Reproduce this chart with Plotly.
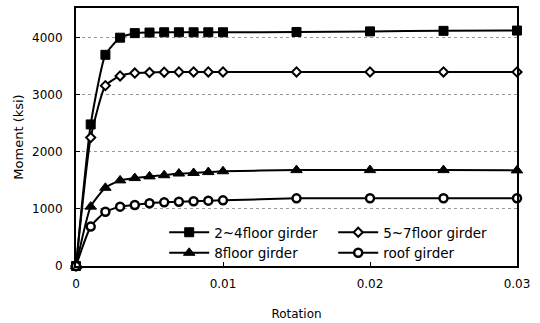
import plotly.graph_objects as go

rotation = [0, 0.001, 0.002, 0.003, 0.004, 0.005, 0.006, 0.007, 0.008, 0.009, 0.010, 0.015, 0.020, 0.025, 0.030]
girder_2_4 = [0, 2480, 3700, 4000, 4080, 4090, 4095, 4095, 4095, 4095, 4095, 4100, 4110, 4120, 4125]
girder_5_7 = [0, 2250, 3160, 3330, 3380, 3390, 3395, 3400, 3400, 3400, 3400, 3400, 3400, 3400, 3400]
girder_8 = [0, 1040, 1370, 1500, 1540, 1570, 1590, 1620, 1630, 1645, 1660, 1680, 1680, 1680, 1675]
girder_roof = [0, 690, 950, 1040, 1070, 1100, 1115, 1125, 1135, 1145, 1150, 1185, 1188, 1188, 1188]

series_names = ["2~4floor girder", "5~7floor girder", "8floor girder", "roof girder"]
x_ticks = [0, 0.01, 0.02, 0.03]
x_tick_labels = ["0", "0.01", "0.02", "0.03"]
y_ticks = [0, 1000, 2000, 3000, 4000]

fig = go.Figure()
styles = [
    dict(symbol="square", size=9, color="black", line=dict(color="black", width=1)),
    dict(symbol="diamond", size=7, color="white", line=dict(color="black", width=2)),
    dict(symbol="triangle-up", size=10, color="black", line=dict(color="black", width=1)),
    dict(symbol="circle", size=8, color="white", line=dict(color="black", width=2.5)),
]
for name, ys, mk in zip(series_names, [girder_2_4, girder_5_7, girder_8, girder_roof], styles):
    fig.add_trace(go.Scatter(
        x=rotation, y=ys, name=name, mode="lines+markers",
        line=dict(color="black", width=2, shape="spline", smoothing=0.5),
        marker=mk, cliponaxis=False,
    ))

fig.update_layout(
    width=540, height=323,
    margin=dict(l=76, r=23, t=8, b=57),
    paper_bgcolor="white", plot_bgcolor="white",
    font=dict(family="DejaVu Sans, Arial, sans-serif", size=12, color="black"),
    legend=dict(
        orientation="h", x=0.2, y=0.19, xanchor="left", yanchor="top",
        entrywidth=114, entrywidthmode="pixels", itemwidth=40,
        bgcolor="rgba(0,0,0,0)", font=dict(size=13.5), tracegroupgap=0,
    ),
    showlegend=True,
)
fig.update_xaxes(
    range=[0, 0.03], tickvals=x_ticks, ticktext=x_tick_labels,
    showline=True, linecolor="black", linewidth=2, mirror=True,
    ticks="inside", ticklen=4, tickcolor="black",
    showgrid=False, zeroline=False, ticklabelstandoff=6, automargin=False,
    title=dict(text="Rotation", font=dict(size=12), standoff=19),
)
fig.update_yaxes(
    range=[0, 4520], tickvals=y_ticks,
    showline=True, linecolor="black", linewidth=2, mirror=True,
    ticks="inside", ticklen=4, tickcolor="black",
    showgrid=True, gridcolor="#999999", griddash="dot", gridwidth=1,
    zeroline=False, ticklabelstandoff=9, automargin=False,
    title=dict(text="Moment (ksi)", font=dict(size=13), standoff=6),
)
fig.write_html("out.html")
